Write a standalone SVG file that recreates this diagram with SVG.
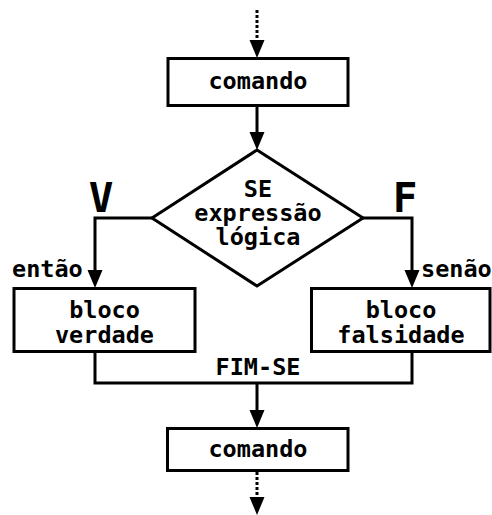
<svg xmlns="http://www.w3.org/2000/svg" width="492" height="515" viewBox="0 0 492 515">
<defs>
<style>
.box{fill:#fff;stroke:#000;stroke-width:3}
.t{font-family:"DejaVu Sans Mono",monospace;font-weight:bold;font-size:23.5px;fill:#000;text-anchor:middle}
.big{font-family:"DejaVu Sans Mono",monospace;font-weight:bold;font-size:41px;fill:#000;text-anchor:middle}
.c{fill:none;stroke:#000;stroke-width:3}
.d{fill:none;stroke:#000;stroke-width:3;stroke-dasharray:3 2}
</style>
<marker id="ah" markerUnits="userSpaceOnUse" markerWidth="18" markerHeight="16" refX="8" refY="8" orient="auto" viewBox="0 0 18 16">
<path d="M0,0.5 L18,8 L0,15.5 Z" fill="#000"/>
</marker>
</defs>
<g id="connectors">
<path class="d" d="M257,10 L257,48" marker-end="url(#ah)"/>
<path class="c" d="M257,105 L257,140" marker-end="url(#ah)"/>
<path class="c" d="M152,218 L95,218 L95,278" marker-end="url(#ah)"/>
<path class="c" d="M363,218 L412,218 L412,278" marker-end="url(#ah)"/>
<path class="c" d="M95,352 L95,383 L412,383 L412,352"/>
<path class="c" d="M257,383 L257,418" marker-end="url(#ah)"/>
<path class="d" d="M257,472 L257,505" marker-end="url(#ah)"/>
</g>
<g id="cmd1">
<rect class="box" x="168" y="58.5" width="180" height="47"/>
<text class="t" x="258" y="89">comando</text>
</g>
<g id="decision">
<polygon class="box" points="257,150 363,218 257,286 152,218"/>
<text class="t" x="258" y="197">SE<tspan x="258" dy="24">expressão</tspan><tspan x="258" dy="24">lógica</tspan></text>
</g>
<text class="big" x="101" y="212">V</text>
<text class="big" x="405" y="212">F</text>
<text class="t" x="12" y="277" style="text-anchor:start">então</text>
<text class="t" x="421" y="277" style="text-anchor:start">senão</text>
<g id="blocoV">
<rect class="box" x="14" y="288.5" width="181" height="63"/>
<text class="t" x="104.5" y="318">bloco<tspan x="104.5" dy="25">verdade</tspan></text>
</g>
<g id="blocoF">
<rect class="box" x="311.5" y="288.5" width="178.5" height="63"/>
<text class="t" x="401" y="318">bloco<tspan x="401" dy="25">falsidade</tspan></text>
</g>
<text class="t" x="258" y="375">FIM-SE</text>
<g id="cmd2">
<rect class="box" x="167.5" y="428.5" width="180.5" height="42"/>
<text class="t" x="258" y="457">comando</text>
</g>
</svg>
